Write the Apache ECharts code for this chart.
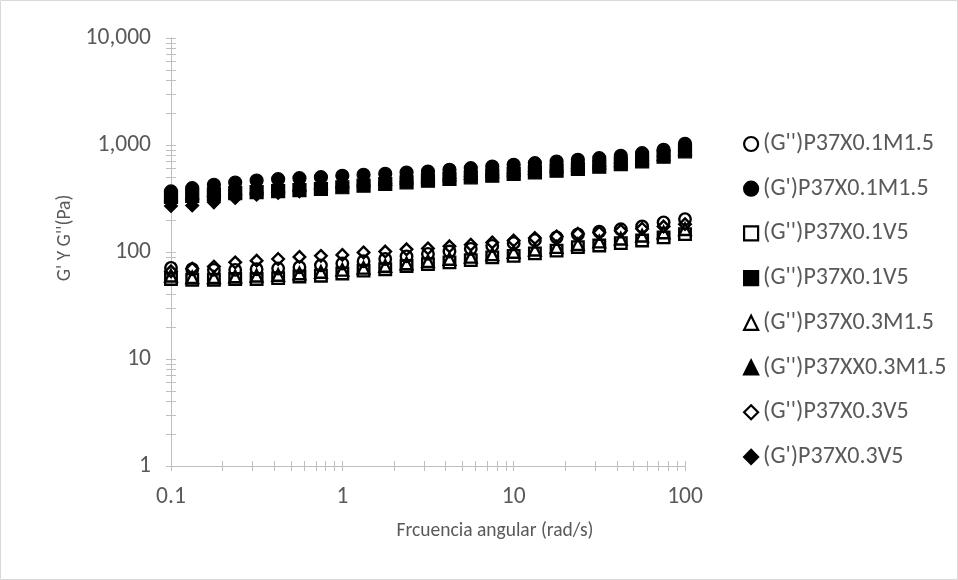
<!DOCTYPE html>
<html>
<head>
<meta charset="utf-8">
<script src="https://cdn.jsdelivr.net/npm/echarts@6/dist/echarts.min.js"></script>
<style>
  html, body { margin: 0; padding: 0; background: #fff; }
  #chart { width: 958px; height: 580px; }
</style>
</head>
<body>
<div id="chart"></div>
<script>
// Angular frequency sweep (rad/s)
const freq = [0.1, 0.133, 0.178, 0.237, 0.316, 0.422, 0.562, 0.75, 1, 1.33, 1.78, 2.37, 3.16,
              4.22, 5.62, 7.5, 10, 13.3, 17.8, 23.7, 31.6, 42.2, 56.2, 75, 100];

// Moduli (Pa)
const gpp_X01M15 = [71, 69, 68, 68, 69, 70, 72, 75, 78, 82, 86, 91, 96, 101, 107, 114, 121, 129, 137, 146, 155, 163, 173, 189, 203];
const gp_X01M15  = [368, 395, 425, 446, 466, 479, 490, 500, 515, 527, 538, 553, 565, 586, 607, 629, 653, 676, 701, 727, 753, 793, 838, 902, 1026];
const gpp_X01V5  = [56, 55, 55, 56, 56, 57, 59, 60, 63, 67, 69, 74, 77, 80, 84, 89, 92, 97, 103, 111, 115, 121, 128, 137, 147];
const gp_X01V5   = [327, 335, 345, 355, 362, 370, 378, 388, 403, 417, 432, 448, 464, 481, 499, 517, 536, 555, 575, 597, 627, 664, 703, 778, 873];
const gpp_X03M15 = [60, 58, 58, 59, 60, 61, 63, 65, 68, 71, 74, 78, 82, 86, 90, 95, 100, 105, 111, 118, 125, 133, 142, 152, 163];
const gp_X03M15  = [345, 360, 380, 395, 410, 422, 433, 443, 457, 470, 483, 497, 512, 530, 549, 570, 592, 613, 636, 660, 686, 720, 760, 825, 930];
const gpp_X03V5  = [66, 70, 73, 80, 83, 86, 90, 92, 94, 99, 101, 106, 108, 113, 117, 123, 128, 135, 140, 148, 152, 158, 165, 173, 182];
const gp_X03V5   = [269, 272, 291, 320, 343, 356, 369, 392, 408, 423, 438, 454, 470, 487, 505, 523, 542, 562, 582, 604, 634, 671, 711, 787, 882];

// Legend labels, in series order
const seriesLabels = ["(G'')P37X0.1M1.5", "(G')P37X0.1M1.5", "(G'')P37X0.1V5", "(G'')P37X0.1V5",
                      "(G'')P37X0.3M1.5", "(G'')P37XX0.3M1.5", "(G'')P37X0.3V5", "(G')P37X0.3V5"];

// Axis labels and tick positions
const xTickLabels = [0.1, 1, 10, 100];
const yTickLabels = [1, 10, 100, 1000, 10000];
const xTickMarks = [0.1, 0.2, 0.3, 0.4, 0.5, 0.6, 0.7, 0.8, 0.9, 1, 2, 3, 4, 5, 6, 7, 8, 9,
                    10, 20, 30, 40, 50, 60, 70, 80, 90, 100];
const yTickMarks = [1, 2, 3, 4, 5, 6, 7, 8, 9, 10, 20, 30, 40, 50, 60, 70, 80, 90,
                    100, 200, 300, 400, 500, 600, 700, 800, 900,
                    1000, 2000, 3000, 4000, 5000, 6000, 7000, 8000, 9000, 10000];

const FONT = 'Carlito, Calibri, Lato, sans-serif';
const TXT = '#595959';
const AXIS = '#bfbfbf';

const seriesDefs = [
  { data: gpp_X01M15, symbol: 'circle',   filled: false },
  { data: gp_X01M15,  symbol: 'circle',   filled: true },
  { data: gpp_X01V5,  symbol: 'rect',     filled: false },
  { data: gp_X01V5,   symbol: 'rect',     filled: true },
  { data: gpp_X03M15, symbol: 'triangle', filled: false },
  { data: gp_X03M15,  symbol: 'triangle', filled: true },
  { data: gpp_X03V5,  symbol: 'diamond',  filled: false },
  { data: gp_X03V5,   symbol: 'diamond',  filled: true }
];

const series = seriesDefs.map((d, i) => ({
  type: 'scatter',
  name: 's' + i,
  xAxisIndex: 0,
  yAxisIndex: 0,
  symbol: d.symbol,
  symbolSize: d.filled ? 13 : 11.5,
  data: freq.map((f, k) => [f, d.data[k]]),
  itemStyle: d.filled
    ? { color: '#000', borderColor: '#000', borderWidth: 1.2, opacity: 1 }
    : { color: 'rgba(0,0,0,0)', borderColor: '#000', borderWidth: 2.4, opacity: 1 },
  emphasis: { disabled: true },
  z: 2 + i
}));

function xAxisBase(inside) {
  return {
    type: 'log', logBase: 10, min: 0.1, max: 100,
    gridIndex: 0, position: 'bottom',
    axisLine: { show: !inside, onZero: false, lineStyle: { color: AXIS, width: 1 } },
    axisTick: { show: true, inside: inside, length: 5, customValues: xTickMarks,
                lineStyle: { color: AXIS, width: 1 } },
    axisLabel: { show: !inside, customValues: xTickLabels, margin: 19,
                 color: TXT, fontSize: 23.5, fontFamily: FONT,
                 formatter: v => String(v) },
    splitLine: { show: false },
    minorTick: { show: false }
  };
}
function yAxisBase(inside) {
  return {
    type: 'log', logBase: 10, min: 1, max: 10000,
    gridIndex: 0, position: 'left',
    axisLine: { show: !inside, onZero: false, lineStyle: { color: AXIS, width: 1 } },
    axisTick: { show: true, inside: inside, length: 5, customValues: yTickMarks,
                lineStyle: { color: AXIS, width: 1 } },
    axisLabel: { show: !inside, customValues: yTickLabels, margin: 20,
                 color: TXT, fontSize: 23.5, fontFamily: FONT,
                 formatter: v => Number(v).toLocaleString('en-US') },
    splitLine: { show: false },
    minorTick: { show: false }
  };
}

const xMain = Object.assign(xAxisBase(false), {
  name: 'Frcuencia angular (rad/s)', nameLocation: 'middle', nameGap: 55,
  nameTextStyle: { color: TXT, fontSize: 19.5, fontFamily: FONT, padding: [0, 0, 0, 134] }
});
const yMain = Object.assign(yAxisBase(false), {
  name: "G' Y G''(Pa)", nameLocation: 'middle', nameGap: 96, nameRotate: 90,
  nameTextStyle: { color: TXT, fontSize: 19.5, fontFamily: FONT, padding: [0, 0, 0, 28] }
});

const chart = echarts.init(document.getElementById('chart'), null, { renderer: 'canvas' });
chart.setOption({
  backgroundColor: '#fff',
  animation: false,
  grid: { left: 171, right: 273, top: 38, bottom: 114, containLabel: false },
  xAxis: [xMain, xAxisBase(true)],
  yAxis: [yMain, yAxisBase(true)],
  legend: {
    orient: 'vertical',
    left: 738, top: 127,
    itemWidth: 14, itemHeight: 14, itemGap: 20.7,
    selectedMode: false,
    itemStyle: { borderWidth: 2.2, opacity: 1 },
    textStyle: { color: TXT, fontSize: 24, fontFamily: FONT, lineHeight: 24 },
    formatter: name => seriesLabels[Number(name.slice(1))],
    data: series.map(s => s.name)
  },
  graphic: [{
    type: 'rect', silent: true,
    shape: { x: 0.5, y: 0.5, width: 957, height: 579 },
    style: { fill: 'none', stroke: '#d9d9d9', lineWidth: 1 }
  }],
  series: series
});
</script>
</body>
</html>
